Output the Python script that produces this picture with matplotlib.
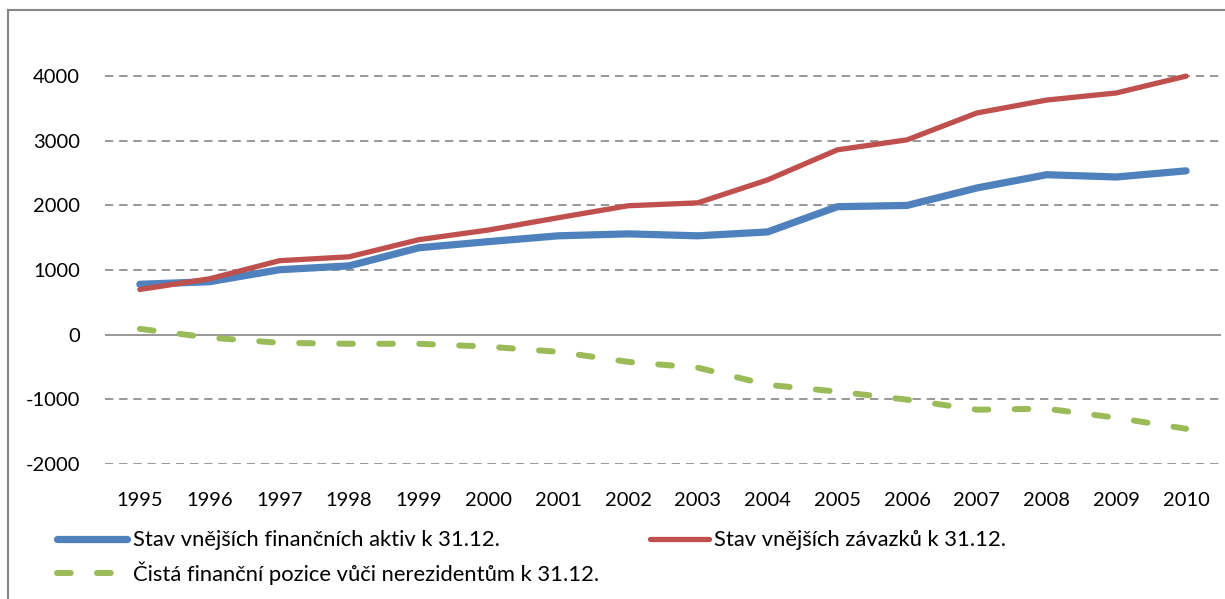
import matplotlib.pyplot as plt
from matplotlib.lines import Line2D

# hodnoty
roky = [1995, 1996, 1997, 1998, 1999, 2000, 2001, 2002, 2003, 2004, 2005, 2006, 2007, 2008, 2009, 2010]
aktiva = [780, 820, 1005, 1065, 1345, 1440, 1530, 1560, 1530, 1590, 1980, 2000, 2270, 2475, 2440, 2535]
zavazky = [700, 865, 1145, 1205, 1470, 1620, 1810, 1995, 2040, 2395, 2860, 3015, 3430, 3630, 3740, 4000]
cista = [90, -45, -125, -140, -140, -185, -265, -420, -510, -775, -880, -1005, -1160, -1145, -1285, -1455]

popisky = ["Stav vnějších finančních aktiv k 31.12.",
           "Stav vnějších závazků k 31.12.",
           "Čistá finanční pozice vůči nerezidentům k 31.12."]

plt.rcParams['font.family'] = ['Lato', 'DejaVu Sans']
plt.rcParams['axes.unicode_minus'] = False

fig = plt.figure(figsize=(12.25, 5.99), dpi=100)
ax = fig.add_axes([0.0857, 0.2254, 0.911, 0.750])

l1, = ax.plot(roky, aktiva, color='#4F81BD', lw=5.2, solid_capstyle='round', solid_joinstyle='round')
l2, = ax.plot(roky, zavazky, color='#C0504D', lw=3.8, solid_capstyle='round', solid_joinstyle='round')
l3, = ax.plot(roky, cista, color='#9BBB59', lw=4.3, linestyle=(0, (2.3, 4.4)),
              dash_capstyle='round')

ax.set_xlim(1994.5, 2010.5)
ax.set_ylim(-2000, 4950)
ax.set_xticks(roky)
ax.set_yticks(range(-2000, 5000, 1000))
for v in range(-2000, 5000, 1000):
    if v == 0:
        ax.axhline(v, color='#868686', lw=1.2, zorder=0)
    else:
        ax.axhline(v, color='#868686', lw=1.2, ls=(0, (5, 3.5)), zorder=0)

for s in ax.spines.values():
    s.set_visible(False)
ax.tick_params(axis='both', length=0, labelsize=14.5, colors='black')
ax.tick_params(axis='y', pad=18)
ax.tick_params(axis='x', pad=20)

# rámeček grafu
fig.add_artist(Line2D([0.0065, 0.0065], [-0.1, 0.983], color='#868686', lw=1.5))
fig.add_artist(Line2D([0.0065, 1.1], [0.983, 0.983], color='#868686', lw=1.5))

leg1 = fig.legend([l1, l3], [popisky[0], popisky[2]], loc='upper left',
                  bbox_to_anchor=(0.0375, 0.133), frameon=False, fontsize=15.8,
                  handlelength=3.2, handletextpad=0.27, labelspacing=0.5, borderpad=0)
leg2 = fig.legend([l2], [popisky[1]], loc='upper left',
                  bbox_to_anchor=(0.5216, 0.133), frameon=False, fontsize=15.8,
                  handlelength=2.7, handletextpad=0.2, borderpad=0)

fig.savefig('out.png', dpi=100)
